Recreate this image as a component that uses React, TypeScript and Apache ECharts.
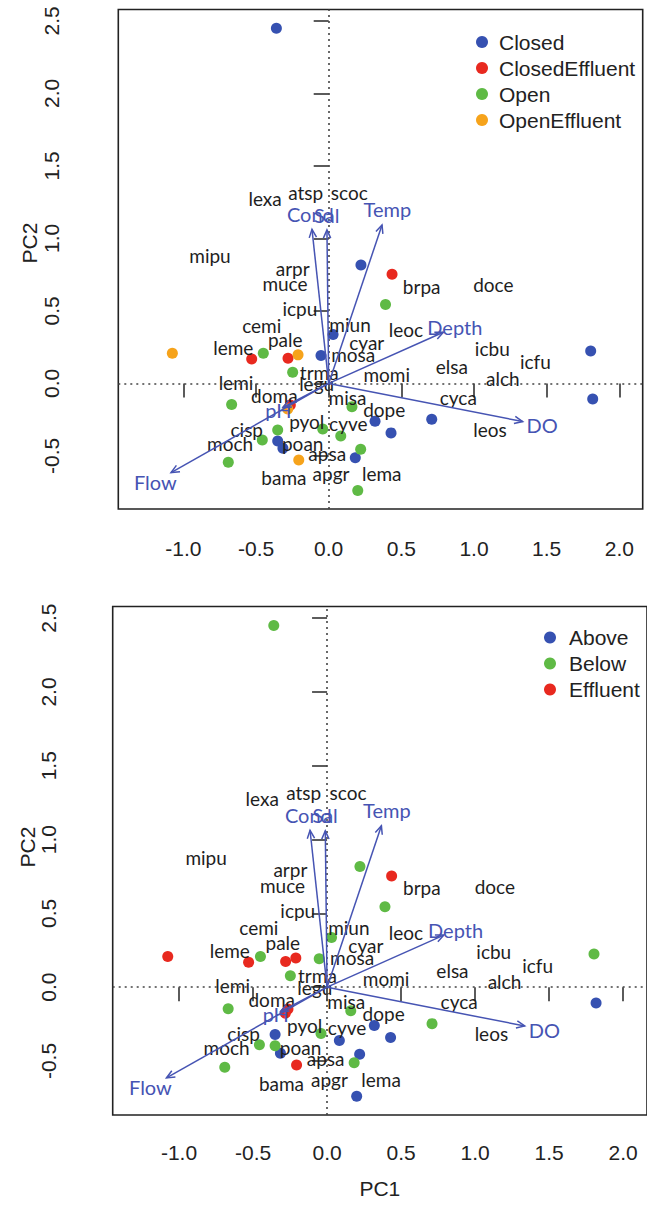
import React, { useEffect, useRef } from "react";
import * as echarts from "echarts";

// ---- site scores (PC1, PC2) ----
const sitePC1 = [-0.36, 0.222, 0.03, -0.053, 1.803, 1.817, 0.319, 0.429, 0.709, -0.351, -0.315, 0.183,
  0.436, -0.53, -0.28, -0.264,
  0.391, -0.45, -0.248, -0.668, 0.16, -0.351, -0.041, 0.083, -0.457, 0.22, -0.691, 0.2,
  -1.076, -0.211, -0.282, -0.206];
const sitePC2 = [2.45, 0.817, 0.337, 0.192, 0.224, -0.107, -0.26, -0.341, -0.247, -0.397, -0.447, -0.512,
  0.753, 0.169, 0.174, -0.148,
  0.545, 0.208, 0.077, -0.146, -0.16, -0.321, -0.314, -0.362, -0.39, -0.454, -0.543, -0.739,
  0.208, 0.197, -0.176, -0.528];
// grouping used in the upper panel
const siteGroupTop = ["Closed", "Closed", "Closed", "Closed", "Closed", "Closed", "Closed", "Closed", "Closed", "Closed", "Closed", "Closed",
  "ClosedEffluent", "ClosedEffluent", "ClosedEffluent", "ClosedEffluent",
  "Open", "Open", "Open", "Open", "Open", "Open", "Open", "Open", "Open", "Open", "Open", "Open",
  "OpenEffluent", "OpenEffluent", "OpenEffluent", "OpenEffluent"];
// grouping used in the lower panel
const siteGroupBottom = ["Below", "Below", "Below", "Below", "Below", "Above", "Above", "Above", "Below", "Below", "Above", "Below",
  "Effluent", "Effluent", "Effluent", "Effluent",
  "Below", "Below", "Below", "Below", "Below", "Above", "Below", "Above", "Below", "Above", "Below", "Above",
  "Effluent", "Effluent", "Effluent", "Effluent"];

const groupsTop = ["Closed", "ClosedEffluent", "Open", "OpenEffluent"];
const colorsTop = ["#3651b1", "#e8291f", "#5fba45", "#f6a31b"];
const groupsBottom = ["Above", "Below", "Effluent"];
const colorsBottom = ["#3651b1", "#5fba45", "#e8291f"];

// ---- species scores ----
const speciesNames = ["lexa", "atsp", "scoc", "mipu", "arpr", "muce", "icpu", "cemi", "miun", "leme", "pale", "cyar",
  "mosa", "trma", "lemi", "legu", "doma", "misa", "dope", "pyol", "cyve", "cisp", "moch", "poan", "apsa", "apgr",
  "lema", "bama", "brpa", "doce", "leoc", "icbu", "icfu", "elsa", "momi", "alch", "cyca", "leos"];
const speciesPC1 = [-0.438, -0.158, 0.142, -0.817, -0.248, -0.301, -0.198, -0.461, 0.147, -0.657, -0.299, 0.262,
  0.169, -0.065, -0.638, -0.083, -0.374, 0.129, 0.382, -0.151, 0.135, -0.564, -0.679, -0.179, -0.01, 0.016,
  0.365, -0.308, 0.64, 1.133, 0.532, 1.126, 1.422, 0.847, 0.399, 1.198, 0.892, 1.11];
const speciesPC2 = [1.277, 1.316, 1.316, 0.879, 0.794, 0.691, 0.519, 0.403, 0.407, 0.25, 0.3, 0.279,
  0.2, 0.077, 0.008, 0.001, -0.086, -0.099, -0.178, -0.263, -0.274, -0.316, -0.412, -0.412, -0.486, -0.624,
  -0.624, -0.65, 0.672, 0.684, 0.369, 0.243, 0.15, 0.116, 0.059, 0.036, -0.095, -0.316];

// ---- environmental vectors (arrow tips) ----
const envNames = ["Cond", "Sal", "Temp", "Depth", "DO", "Flow", "pH"];
const envPC1 = [-0.115, -0.012, 0.367, 0.789, 1.335, -1.085, -0.315];
const envPC2 = [1.063, 1.059, 1.093, 0.353, -0.263, -0.615, -0.166];
const envLabelMul = 1.1;

// ---- axes ----
const xTicks = [-1.0, -0.5, 0.0, 0.5, 1.0, 1.5, 2.0];
const yTicks = [-0.5, 0.0, 0.5, 1.0, 1.5, 2.0, 2.5];
const xRange = [-1.448, 2.161];
const yRange = [-0.866, 2.579];

const ENV_COLOR = "#4654b3";
const AX_FONT = "'Liberation Sans', Arial, Helvetica, sans-serif";
const SP_FONT = "Lato, 'Open Sans', sans-serif";

const panels = [
  { left: 118.3, top: 9.5, width: 524.4, height: 499.5, yLabMargin: 56, xLabMargin: 29,
    groups: groupsTop, colors: colorsTop, groupOf: siteGroupTop,
    legend: { left: 471, top: 26.5, pad: 6 } },
  { left: 112.7, top: 606.5, width: 535.6, height: 508.5, yLabMargin: 54, xLabMargin: 27,
    groups: groupsBottom, colors: colorsBottom, groupOf: siteGroupBottom,
    legend: { left: 539, top: 622, pad: 8 } },
];

function buildOption() {
  const grid: any[] = [];
  const xAxis: any[] = [];
  const yAxis: any[] = [];
  const series: any[] = [];
  const legend: any[] = [];

  panels.forEach((p, gi) => {
    grid.push({ left: p.left, top: p.top, width: p.width, height: p.height, show: true,
      borderColor: "#222", borderWidth: 1.6, backgroundColor: "transparent", containLabel: false });
    xAxis.push({
      type: "value", gridIndex: gi, min: xRange[0], max: xRange[1],
      axisLine: { show: false }, splitLine: { show: false },
      axisTick: { show: true, inside: false, length: 14, customValues: xTicks, lineStyle: { color: "#333", width: 1.6 } },
      axisLabel: { customValues: xTicks, formatter: (v: number) => v.toFixed(1), margin: p.xLabMargin,
        fontSize: 21, lineHeight: 21, fontFamily: AX_FONT, color: "#222" },
      name: gi === 1 ? "PC1" : "", nameLocation: "middle", nameGap: 63,
      nameTextStyle: { fontSize: 21, lineHeight: 21, fontFamily: AX_FONT, color: "#222" },
    });
    yAxis.push({
      type: "value", gridIndex: gi, min: yRange[0], max: yRange[1],
      axisLine: { show: false }, splitLine: { show: false },
      axisTick: { show: true, inside: false, length: 15, customValues: yTicks, lineStyle: { color: "#333", width: 1.6 } },
      axisLabel: { customValues: yTicks, formatter: (v: number) => v.toFixed(1), margin: p.yLabMargin, rotate: 90,
        fontSize: 21, lineHeight: 21, fontFamily: AX_FONT, color: "#222" },
    });

    // points per group
    p.groups.forEach((g, k) => {
      const data: number[][] = [];
      sitePC1.forEach((x, i) => { if (p.groupOf[i] === g) data.push([x, sitePC2[i]]); });
      const s: any = {
        type: "scatter", name: g, xAxisIndex: gi, yAxisIndex: gi, data,
        symbol: "circle", symbolSize: 11, itemStyle: { color: p.colors[k], opacity: 1 }, z: 3, silent: true,
      };
      if (k === 0) {
        s.markLine = {
          silent: true, symbol: ["none", "none"], label: { show: false },
          lineStyle: { color: "#444", type: [2, 4], width: 1.6 },
          data: [{ xAxis: 0 }, { yAxis: 0 }], animation: false,
        };
      }
      series.push(s);
    });

    // species labels
    series.push({
      type: "custom", name: "species" + gi, xAxisIndex: gi, yAxisIndex: gi, silent: true, z: 4,
      data: speciesNames.map((n, i) => ({ name: n, value: [speciesPC1[i], speciesPC2[i]] })),
      encode: { x: 0, y: 1 },
      renderItem: (params: any, api: any) => {
        const c = api.coord([api.value(0), api.value(1)]);
        return { type: "text", x: c[0], y: c[1],
          style: { text: speciesNames[params.dataIndex], fontSize: 19, fontFamily: SP_FONT, fill: "#1e1e1e",
            align: "center", verticalAlign: "middle" } };
      },
    });

    // env arrows
    series.push({
      type: "custom", name: "envArrows" + gi, xAxisIndex: gi, yAxisIndex: gi, silent: true, z: 5,
      data: envNames.map((n, i) => ({ name: n, value: [envPC1[i], envPC2[i]] })),
      encode: { x: 0, y: 1 },
      renderItem: (params: any, api: any) => {
        const o = api.coord([0, 0]);
        const t = api.coord([api.value(0), api.value(1)]);
        const ang = Math.atan2(t[1] - o[1], t[0] - o[0]);
        const L = 9, a = Math.PI / 7.5;
        const h1 = [t[0] - L * Math.cos(ang - a), t[1] - L * Math.sin(ang - a)];
        const h2 = [t[0] - L * Math.cos(ang + a), t[1] - L * Math.sin(ang + a)];
        return { type: "group", children: [
          { type: "line", shape: { x1: o[0], y1: o[1], x2: t[0], y2: t[1] }, style: { stroke: ENV_COLOR, lineWidth: 1.5 } },
          { type: "polyline", shape: { points: [h1, t, h2] }, style: { stroke: ENV_COLOR, lineWidth: 1.5, fill: null } },
        ] };
      },
    });

    // env labels
    series.push({
      type: "custom", name: "envLabels" + gi, xAxisIndex: gi, yAxisIndex: gi, silent: true, z: 6,
      data: envNames.map((n, i) => ({ name: n, value: [envPC1[i] * envLabelMul, envPC2[i] * envLabelMul] })),
      encode: { x: 0, y: 1 },
      renderItem: (params: any, api: any) => {
        const c = api.coord([api.value(0), api.value(1)]);
        return { type: "text", x: c[0], y: c[1],
          style: { text: envNames[params.dataIndex], fontSize: 20, fontFamily: SP_FONT, fill: ENV_COLOR,
            align: "center", verticalAlign: "middle" } };
      },
    });

    legend.push({
      data: p.groups.map((g, k) => ({ name: g, itemStyle: { color: p.colors[k] } })),
      orient: "vertical", left: p.legend.left, top: p.legend.top,
      itemWidth: 12, itemHeight: 12, itemGap: 5, icon: "circle", selectedMode: false,
      textStyle: { fontSize: 21, lineHeight: 21, fontFamily: AX_FONT, color: "#222", padding: [0, 0, 0, p.legend.pad] },
    });
  });

  return {
    animation: false,
    backgroundColor: "#ffffff",
    grid, xAxis, yAxis, series, legend,
    graphic: [
      { type: "text", x: 29, y: 243, rotation: Math.PI / 2,
        style: { text: "PC2", fontSize: 21, fontFamily: AX_FONT, fill: "#222", align: "center", verticalAlign: "middle" } },
      { type: "text", x: 27, y: 847, rotation: Math.PI / 2,
        style: { text: "PC2", fontSize: 21, fontFamily: AX_FONT, fill: "#222", align: "center", verticalAlign: "middle" } },
    ],
  };
}

export default function App() {
  const ref = useRef<HTMLDivElement>(null);
  useEffect(() => {
    if (!ref.current) return;
    const chart = echarts.init(ref.current, undefined, { renderer: "svg" });
    chart.setOption(buildOption() as any);
    return () => chart.dispose();
  }, []);
  return (
    <div ref={ref}
      style={{ position: "absolute", left: 0, top: 0, width: 647, height: 1222, background: "#fff" }} />
  );
}
